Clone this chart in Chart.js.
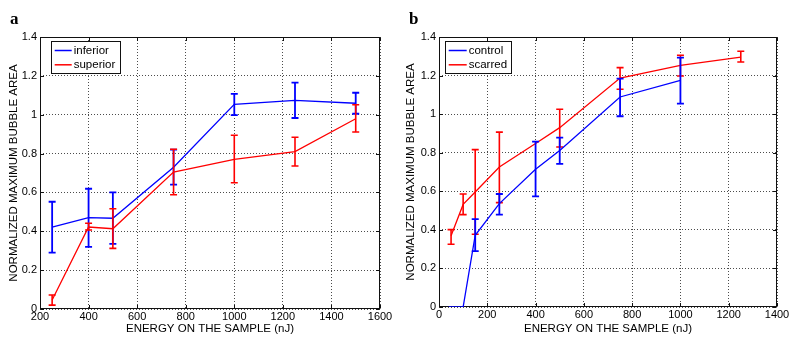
<!DOCTYPE html>
<html><head><meta charset="utf-8">
<script src="https://cdn.jsdelivr.net/npm/chart.js@4.4.0/dist/chart.umd.min.js"></script>
<style>
html,body{margin:0;padding:0;background:#fff;}
#wrap{position:relative;width:794px;height:338px;overflow:hidden;background:#fff;}
canvas{position:absolute;top:0;}
</style></head><body>
<div id="wrap">
<canvas id="ca" width="397" height="338" style="left:0"></canvas>
<canvas id="cb" width="397" height="338" style="left:397px"></canvas>
</div>
<script>
// ---------- data ----------
const yTickValues = [0, 0.2, 0.4, 0.6, 0.8, 1, 1.2, 1.4];
const yTickLabels = ['0', '0.2', '0.4', '0.6', '0.8', '1', '1.2', '1.4'];
const xTickValuesA = [200, 400, 600, 800, 1000, 1200, 1400, 1600];
const xTickValuesB = [0, 200, 400, 600, 800, 1000, 1200, 1400];

const energyA = [250, 400, 500, 750, 1000, 1250, 1500];
const inferiorMean = [0.422, 0.47, 0.467, 0.73, 1.053, 1.074, 1.059];
const inferiorLow  = [0.29, 0.32, 0.335, 0.64, 0.998, 0.983, 1.005];
const inferiorHigh = [0.552, 0.619, 0.60, 0.82, 1.107, 1.165, 1.113];
const superiorMean = [0.046, 0.422, 0.413, 0.705, 0.77, 0.81, 0.979];
const superiorLow  = [0.02, 0.407, 0.312, 0.588, 0.65, 0.736, 0.911];
const superiorHigh = [0.072, 0.441, 0.516, 0.822, 0.894, 0.884, 1.051];

const energyControl = [40, 100, 150, 250, 400, 500, 750, 1000];
const controlMean = [0, 0, 0.372, 0.536, 0.714, 0.812, 1.089, 1.175];
const controlLow  = [null, null, 0.29, 0.479, 0.574, 0.742, 0.989, 1.055];
const controlHigh = [null, null, 0.456, 0.586, 0.857, 0.878, 1.184, 1.293];
const energyScarred = [50, 100, 150, 250, 400, 500, 750, 1000, 1250];
const scarredMean = [0.37, 0.532, 0.596, 0.726, 0.848, 0.93, 1.187, 1.253, 1.296];
const scarredLow  = [0.325, 0.479, 0.377, 0.541, null, 0.83, 1.129, 1.198, 1.27];
const scarredHigh = [0.401, 0.586, 0.816, 0.907, null, 1.025, 1.241, 1.305, 1.326];

const xTitle = 'ENERGY ON THE SAMPLE (nJ)';
const yTitle = 'NORMALIZED MAXIMUM BUBBLE AREA';

// ---------- styles ----------
const BLUE = 'rgb(0,0,255)';
const RED = 'rgb(255,0,0)';
const FONT = "'Liberation Sans', Arial, Helvetica, sans-serif";

function pts(xs, ys) { return xs.map((x, i) => ({ x: x, y: ys[i] })); }

const decorPlugin = {
  id: 'decor',
  beforeDatasetsDraw(chart) {
    const ctx = chart.ctx, a = chart.chartArea;
    const xs = chart.scales.x, ys = chart.scales.y;
    ctx.save();
    const L = Math.round(a.left) + 0.5, R = Math.round(a.right) - 0.5;
    const T = Math.round(a.top) + 0.5, B = Math.round(a.bottom) - 0.5;
    ctx.strokeStyle = '#111';
    ctx.lineWidth = 1;
    ctx.setLineDash([]);
    ctx.strokeRect(L, T, R - L, B - T);
    ctx.beginPath();
    xs.ticks.forEach(t => {
      const px = Math.round(xs.getPixelForValue(t.value)) + 0.5;
      ctx.moveTo(px, B); ctx.lineTo(px, B - 3.5);
      ctx.moveTo(px, T); ctx.lineTo(px, T + 3.5);
    });
    ys.ticks.forEach(t => {
      const py = Math.round(ys.getPixelForValue(t.value)) + 0.5;
      ctx.moveTo(L, py); ctx.lineTo(L + 3.5, py);
      ctx.moveTo(R, py); ctx.lineTo(R - 3.5, py);
    });
    ctx.stroke();
    ctx.restore();
  },
  afterDatasetDraw(chart, args) {
    const ds = chart.data.datasets[args.index];
    if (!ds.errLow) return;
    const xs = chart.scales.x, ys = chart.scales.y, ctx = chart.ctx;
    ctx.save();
    ctx.strokeStyle = ds.borderColor;
    ctx.lineWidth = ds.errWidth || 1.6;
    ds.data.forEach((p, i) => {
      const lo = ds.errLow[i], hi = ds.errHigh[i];
      if (lo == null || hi == null) return;
      const px = xs.getPixelForValue(p.x);
      const y1 = ys.getPixelForValue(lo), y2 = ys.getPixelForValue(hi);
      ctx.beginPath();
      ctx.moveTo(px, y1); ctx.lineTo(px, y2);
      ctx.moveTo(px - 3.5, y1); ctx.lineTo(px + 3.5, y1);
      ctx.moveTo(px - 3.5, y2); ctx.lineTo(px + 3.5, y2);
      ctx.stroke();
    });
    ctx.restore();
  },
  afterDraw(chart, args, opts) {
    const ctx = chart.ctx, a = chart.chartArea;
    ctx.save();
    // legend
    const lx = a.left + opts.legendDx, ly = a.top + opts.legendDy;
    ctx.font = '11.5px ' + FONT;
    const dsets = chart.data.datasets.slice().sort((p, q) => p.legendOrder - q.legendOrder);
    let tw = 0;
    dsets.forEach(d => { tw = Math.max(tw, ctx.measureText(d.label).width); });
    const lineLen = opts.lineLen, pad = 4;
    const w = pad + lineLen + 2 + tw + 4, h = 32;
    ctx.fillStyle = '#fff';
    ctx.fillRect(Math.round(lx) + 0.5, Math.round(ly) + 0.5, Math.round(w), h);
    ctx.strokeStyle = '#111';
    ctx.lineWidth = 1;
    ctx.strokeRect(Math.round(lx) + 0.5, Math.round(ly) + 0.5, Math.round(w), h);
    dsets.forEach((d, i) => {
      const cy = ly + 9.5 + i * 14.3;
      ctx.strokeStyle = d.borderColor;
      ctx.lineWidth = 1.5;
      ctx.beginPath();
      ctx.moveTo(lx + pad, cy); ctx.lineTo(lx + pad + lineLen, cy);
      ctx.stroke();
      ctx.fillStyle = '#000';
      ctx.textBaseline = 'middle';
      ctx.fillText(d.label, lx + pad + lineLen + 2, cy + 0.5);
    });
    // panel letter
    ctx.font = 'bold 17px "Liberation Serif", "Times New Roman", serif';
    ctx.fillStyle = '#000';
    ctx.textBaseline = 'alphabetic';
    ctx.fillText(opts.letter, opts.letterX, 24);
    ctx.restore();
  }
};

function makeChart(id, cfg) {
  const yAxisWidth = cfg.yAxisWidth, xAxisHeight = cfg.xAxisHeight;
  return new Chart(document.getElementById(id), {
    type: 'line',
    data: { datasets: cfg.datasets },
    plugins: [decorPlugin],
    options: {
      responsive: false,
      animation: false,
      devicePixelRatio: 1,
      layout: { padding: { left: 0, right: cfg.rightPad, top: 37, bottom: 0 } },
      elements: { point: { radius: 0, hoverRadius: 0 }, line: { tension: 0, borderWidth: 1.3 } },
      plugins: {
        legend: { display: false },
        tooltip: { enabled: false },
        decor: { legendDx: cfg.legendDx, legendDy: 4, lineLen: cfg.lineLen, letter: cfg.letter, letterX: cfg.letterX }
      },
      scales: {
        x: {
          type: 'linear',
          min: cfg.xTicks[0], max: cfg.xTicks[cfg.xTicks.length - 1],
          afterBuildTicks: s => { s.ticks = cfg.xTicks.map(v => ({ value: v })); },
          afterFit: s => { s.height = xAxisHeight; },
          ticks: { color: '#000', font: { family: FONT, size: 11 }, padding: 1, maxRotation: 0, autoSkip: false,
                   callback: (v) => String(v) },
          grid: { color: 'rgba(0,0,0,0.7)', lineWidth: 1, drawTicks: false, tickLength: 0 },
          border: { display: false, dash: [1, 2] },
          title: { display: true, text: xTitle, color: '#000', font: { family: FONT, size: 11.5 }, padding: { top: 0, bottom: 2 } }
        },
        y: {
          type: 'linear',
          min: 0, max: 1.4,
          afterBuildTicks: s => { s.ticks = yTickValues.map(v => ({ value: v })); },
          afterFit: s => { s.width = yAxisWidth; },
          ticks: { color: '#000', font: { family: FONT, size: 11 }, padding: 3, autoSkip: false,
                   callback: (v, i) => yTickLabels[i] },
          grid: { color: 'rgba(0,0,0,0.7)', lineWidth: 1, drawTicks: false, tickLength: 0 },
          border: { display: false, dash: [1, 2] },
          title: { display: true, text: yTitle, color: '#000', font: { family: FONT, size: 11.5 }, padding: { top: 6.5, bottom: 0 } }
        }
      }
    }
  });
}

makeChart('ca', {
  yAxisWidth: 40, xAxisHeight: 29, rightPad: 17,
  xTicks: xTickValuesA, legendDx: 10.7, lineLen: 17, letter: 'a', letterX: 10,
  datasets: [
    { label: 'inferior', data: pts(energyA, inferiorMean), borderColor: BLUE, backgroundColor: BLUE,
      errLow: inferiorLow, errHigh: inferiorHigh, errWidth: 1.8, order: 1, legendOrder: 0 },
    { label: 'superior', data: pts(energyA, superiorMean), borderColor: RED, backgroundColor: RED,
      errLow: superiorLow, errHigh: superiorHigh, errWidth: 1.6, order: 0, legendOrder: 1 }
  ]
});

makeChart('cb', {
  yAxisWidth: 42, xAxisHeight: 31, rightPad: 17,
  xTicks: xTickValuesB, legendDx: 5.7, lineLen: 18, letter: 'b', letterX: 12,
  datasets: [
    { label: 'control', data: pts(energyControl, controlMean), borderColor: BLUE, backgroundColor: BLUE,
      errLow: controlLow, errHigh: controlHigh, errWidth: 1.8, order: 0, legendOrder: 0 },
    { label: 'scarred', data: pts(energyScarred, scarredMean), borderColor: RED, backgroundColor: RED,
      errLow: scarredLow, errHigh: scarredHigh, errWidth: 1.6, order: 1, legendOrder: 1 }
  ]
});
</script>
</body></html>
